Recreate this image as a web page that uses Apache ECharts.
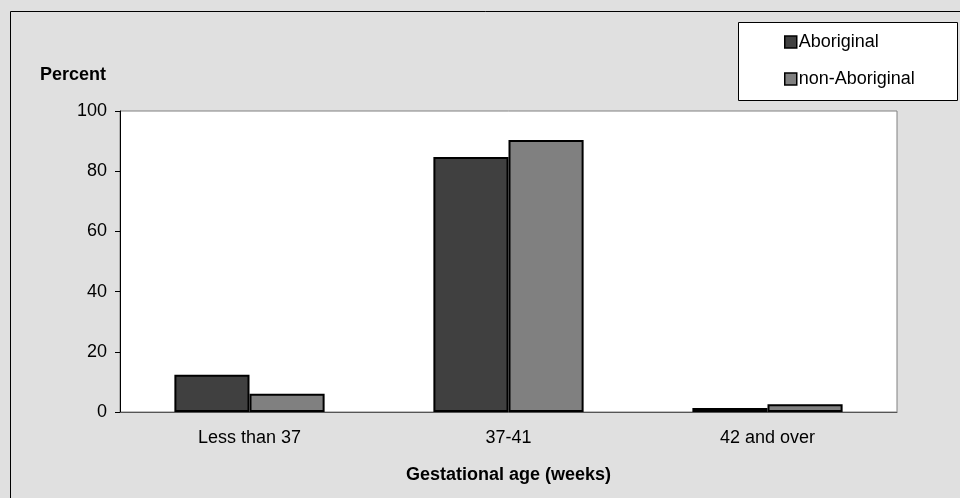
<!DOCTYPE html>
<html>
<head>
<meta charset="utf-8">
<script src="https://cdn.jsdelivr.net/npm/echarts@6/dist/echarts.min.js"></script>
<style>
html,body{margin:0;padding:0;background:#e0e0e0;}
#chart{width:960px;height:498px;}
</style>
</head>
<body>
<div id="chart"></div>
<script>
const categories = ['Less than 37', '37-41', '42 and over'];
const aboriginal = [12.4, 84.7, 1.3];
const nonAboriginal = [6.1, 90.4, 2.6];
const seriesNames = ['Aboriginal', 'non-Aboriginal'];
const yTicks = [0, 20, 40, 60, 80, 100];

const chart = echarts.init(document.getElementById('chart'), null, {renderer: 'canvas'});
const font = 'Liberation Sans, Arial, sans-serif';
chart.setOption({
  backgroundColor: '#e0e0e0',
  animation: false,
  textStyle: {fontFamily: font},
  graphic: [
    {type: 'rect', shape: {x: 10.5, y: 11.5, width: 960, height: 500}, style: {fill: 'none', stroke: '#000', lineWidth: 1}, z: 0},
    {type: 'rect', shape: {x: 738.5, y: 22.5, width: 219, height: 78}, style: {fill: '#fff', stroke: '#000', lineWidth: 1}, z: 1},
    {type: 'text', left: 40, top: 66, style: {text: 'Percent', font: 'bold 18px ' + font, fill: '#000'}, z: 5}
  ],
  grid: {left: 120, top: 111, width: 777, height: 301, show: true, backgroundColor: '#fff', borderColor: '#808080', borderWidth: 1},
  legend: {
    orient: 'vertical', left: 779, top: 28,
    itemWidth: 12, itemHeight: 12, itemGap: 19,
    icon: 'rect',
    itemStyle: {borderColor: '#000', borderWidth: 1.5},
    textStyle: {fontSize: 18, color: '#000', fontFamily: font, padding: [0, 0, 0, -3]},
    data: seriesNames,
    z: 6
  },
  xAxis: {
    type: 'category', data: categories,
    axisLine: {lineStyle: {color: '#555', width: 1}},
    axisTick: {show: false},
    axisLabel: {fontSize: 18, color: '#000', margin: 17},
    name: 'Gestational age (weeks)', nameLocation: 'middle', nameGap: 54,
    nameTextStyle: {fontSize: 18, fontWeight: 'bold', color: '#000'}
  },
  yAxis: {
    type: 'value', min: 0, max: 100, interval: 20,
    axisLine: {show: true, lineStyle: {color: '#000', width: 1}},
    axisTick: {show: true, length: 5, lineStyle: {color: '#000'}},
    axisLabel: {fontSize: 18, color: '#000', margin: 13},
    splitLine: {show: false}
  },
  series: [
    {name: seriesNames[0], type: 'bar', data: aboriginal, barGap: '0%', barCategoryGap: '42%',
     itemStyle: {color: '#404040', borderColor: '#000', borderWidth: 2}},
    {name: seriesNames[1], type: 'bar', data: nonAboriginal, barGap: '0%', barCategoryGap: '42%',
     itemStyle: {color: '#808080', borderColor: '#000', borderWidth: 2}}
  ]
});
</script>
</body>
</html>
